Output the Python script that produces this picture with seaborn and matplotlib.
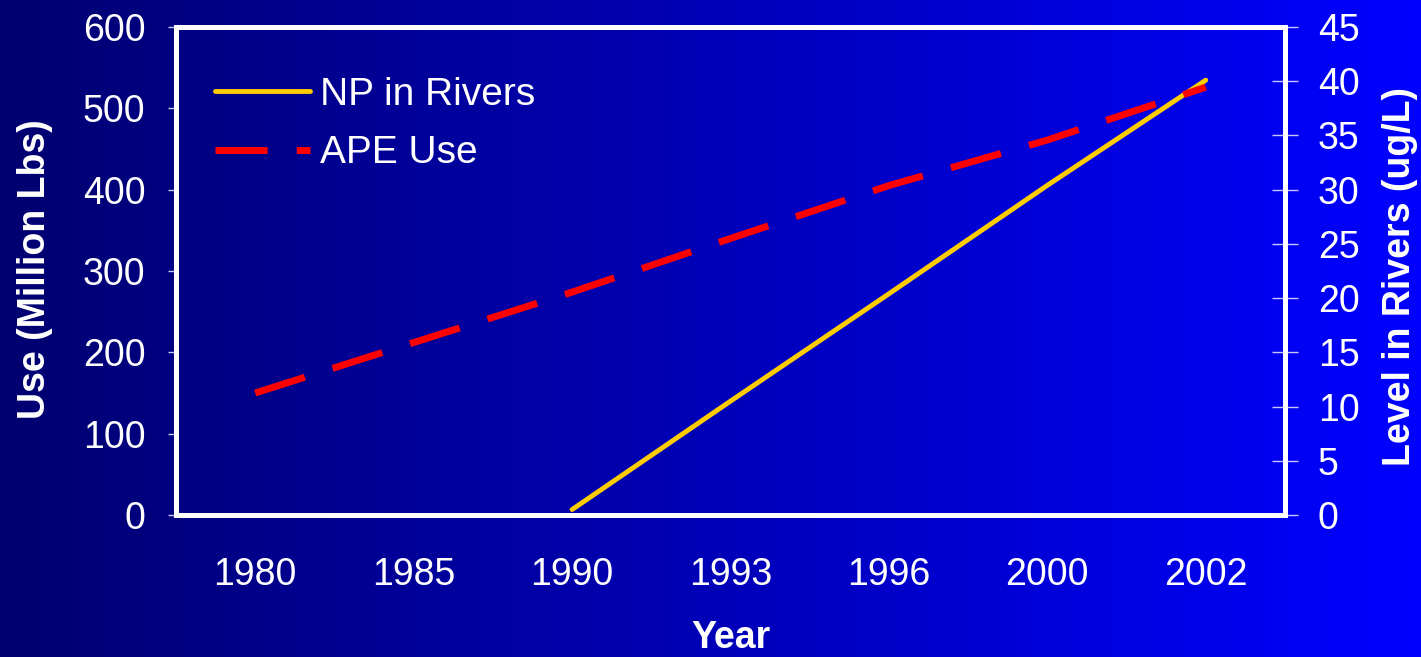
import numpy as np
import pandas as pd
import matplotlib
matplotlib.use("Agg")
import matplotlib.pyplot as plt
from matplotlib.colors import LinearSegmentedColormap
from matplotlib.ticker import FixedLocator, MultipleLocator
import seaborn as sns

# ---- data ----
years = ["1980", "1985", "1990", "1993", "1996", "2000", "2002"]
ape_use = [150, 212, 274, 340, 405, 461, 526]            # Use (Million Lbs)
np_rivers = [np.nan, np.nan, 0.5, 10.5, 20.4, 30.4, 40.1]  # Level in Rivers (ug/L)

sns.set_theme(style="white")
plt.rcParams["font.family"] = ["Liberation Sans", "DejaVu Sans"]

df = pd.DataFrame({
    "pos": np.arange(len(years)),
    "Year": years,
    "APE": ape_use,
    "NP": np_rivers,
})

W, H = 1421, 657
fig = plt.figure(figsize=(W / 100, H / 100), dpi=100)

# slide background: horizontal navy-to-blue gradient
bg = fig.add_axes([0, 0, 1, 1], zorder=-10)
grad = np.linspace(0, 1, 512).reshape(1, -1)
cmap = LinearSegmentedColormap.from_list("slide", ["#000070", "#0000FF"])
bg.imshow(grad, aspect="auto", cmap=cmap, extent=[0, 1, 0, 1])
bg.set_axis_off()

left, right, top, bottom = 176, 1285, 27, 515
ax = fig.add_axes([left / W, 1 - bottom / H, (right - left) / W, (bottom - top) / H])
ax2 = ax.twinx()
ax.set_zorder(ax2.get_zorder() + 1)
ax.patch.set_visible(False)
ax2.patch.set_visible(False)

WHITE = "white"
TICK_C = "#c8c8ff"
FS = 27

# NP concentration on the right-hand scale
sns.lineplot(data=df, x="pos", y="NP", ax=ax2, color="#FFCC00", lw=3.5,
             estimator=None, legend=False, solid_capstyle="round")
# APE use on the left-hand scale
sns.lineplot(data=df, x="pos", y="APE", ax=ax, color="#FF0000", lw=5,
             estimator=None, legend=False, linestyle=(0, (7.5, 4.2)),
             dash_capstyle="butt")

ax.set_xlim(-0.5, len(years) - 0.5)
ax.set_ylim(0, 600)
ax2.set_ylim(0, 45)

ax.set_xticks(np.arange(len(years)))
ax.set_xticklabels(years)
ax.xaxis.set_minor_locator(FixedLocator(np.arange(-0.5, len(years), 1.0)))
ax.yaxis.set_major_locator(MultipleLocator(100))
ax2.yaxis.set_major_locator(MultipleLocator(5))

ax.tick_params(axis="x", which="major", length=0, pad=30, labelsize=FS, labelcolor=WHITE)
ax.tick_params(axis="x", which="minor", length=6.5, width=1, color=TICK_C, direction="out")
ax.tick_params(axis="y", which="major", length=6, width=1, color=TICK_C, direction="out",
               pad=16, labelsize=FS, labelcolor=WHITE)
ax2.tick_params(axis="y", which="major", length=19, width=1, color=TICK_C, direction="inout",
                pad=14, labelsize=FS, labelcolor=WHITE)

for s in ax.spines.values():
    s.set_color(WHITE)
    s.set_linewidth(3.6)
    s.set_visible(True)
for s in ax2.spines.values():
    s.set_visible(False)

ax.set_xlabel("Year", fontsize=FS, fontweight="bold", color=WHITE)
ax.set_ylabel("Use (Million Lbs)", fontsize=FS, fontweight="bold", color=WHITE)
ax2.set_ylabel("Level in Rivers (ug/L)", fontsize=FS, fontweight="bold", color=WHITE)

aw, ah = right - left, bottom - top
ax.xaxis.set_label_coords((731 - left) / aw, (bottom - 648) / ah)
ax.xaxis.label.set(va="baseline", ha="center")
ax.yaxis.set_label_coords((35 - left) / aw, (bottom - 269) / ah)
ax.yaxis.label.set(va="center", ha="center")
ax2.yaxis.set_label_coords((1400 - left) / aw, (bottom - 277) / ah)
ax2.yaxis.label.set(va="center", ha="center", rotation=90)

handles = [ax2.get_lines()[0], ax.get_lines()[0]]
leg = ax.legend(handles, ["NP in Rivers", "APE Use"], loc="upper left",
                bbox_to_anchor=((215 - left) / aw, (bottom - 77) / ah),
                frameon=False, fontsize=28, labelcolor=WHITE,
                handlelength=2.44, handletextpad=0.26, labelspacing=0.57,
                borderpad=0, borderaxespad=0)

fig.savefig("out.png", dpi=100)
